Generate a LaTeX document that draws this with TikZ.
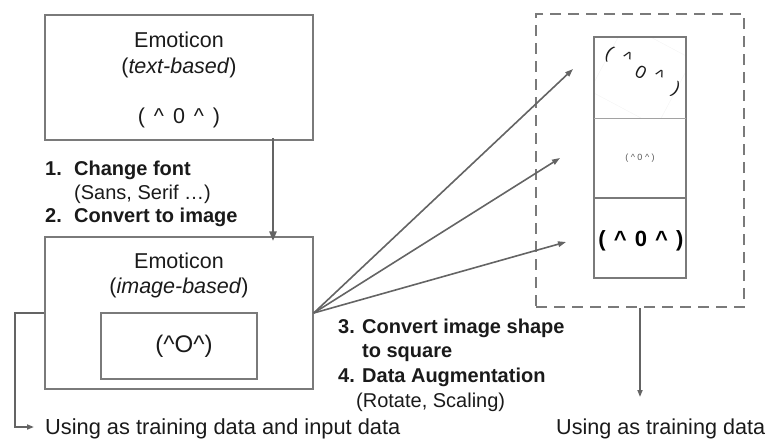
\documentclass[tikz,border=0pt]{standalone}
\usepackage{fontspec}
\setmainfont{Liberation Sans}
\usetikzlibrary{arrows.meta}
\newcommand\crt{\textasciicircum}
\definecolor{linegray}{HTML}{646464}
\definecolor{boxgray}{HTML}{7A7A7A}
\definecolor{ink}{HTML}{1A1A1A}
\begin{document}
\begin{tikzpicture}[x=1pt,y=-1pt,
  box/.style={draw=boxgray,line width=1.5pt,inner sep=0pt},
  txt/.style={text=ink,inner sep=0pt,anchor=base},
  lab/.style={text=ink,inner sep=0pt,anchor=base west,font=\fontsize{20}{24}\selectfont\bfseries},
  sub/.style={text=ink,inner sep=0pt,anchor=base west,font=\fontsize{20}{24}\selectfont},
  big/.style={font=\fontsize{21.5}{26}\selectfont},
  tilted/.style={text=ink,inner sep=0pt,rotate=-28,font=\fontsize{18}{22}\selectfont},
  arr/.style={draw=linegray,line width=1.6pt,-{Triangle[length=8pt,width=5.5pt]}},
  thick arr/.style={arr,line width=2.8pt,-{Triangle[length=10pt,width=7pt]}}]
\useasboundingbox (0,0) rectangle (769,440);

% text-based emoticon
\node[box,minimum width=268pt,minimum height=125pt] (top) at (179,77.5) {};
\node[txt,big] (t1) at (179,47) {Emoticon};
\node[txt,big] (t2) at (179,73) {(\textit{text-based})};
\node[txt,big] (t3) at (179,123) {(\hspace{3pt} \crt\hspace{3pt} 0\hspace{3pt} \crt\hspace{3pt} )};

% image-based emoticon
\node[box,minimum width=268pt,minimum height=152pt] (bottom) at (179,313) {};
\node[txt,big] (b1) at (179,268) {Emoticon};
\node[txt,big] (b2) at (179,293) {(\textit{image-based})};
\node[box,minimum width=156pt,minimum height=66pt] (inner) at (179,346) {};
\node[text=ink,inner sep=0pt,font=\fontsize{24}{28}\selectfont] (emo) at (184,346) {(\crt O\crt)};

% steps 1 and 2
\node[lab] (n1) at (45,175) {1.};
\node[lab] (s1t) at (74,175) {Change font};
\node[sub] (s1s) at (74,199) {(Sans, Serif …)};
\node[lab] (n2) at (45,222) {2.};
\node[lab] (s2t) at (74,222) {Convert to image};

% steps 3 and 4
\node[lab] (n3) at (338,333) {3.};
\node[lab] (s3t) at (362,333) {Convert image shape};
\node[lab] (s3b) at (362,357) {to square};
\node[lab] (n4) at (338,382) {4.};
\node[lab] (s4t) at (362,382) {Data Augmentation};
\node[sub] (s4s) at (356,407) {(Rotate, Scaling)};

% augmented square images
\node[draw=boxgray,dashed,line width=2.5pt,dash pattern=on 11pt off 7pt,
      minimum width=208pt,minimum height=293pt,inner sep=0pt] (aug) at (640,160.5) {};
\node[minimum width=92pt,minimum height=81pt,inner sep=0pt] (img1) at (640,77.5) {};
\node[minimum width=92pt,minimum height=80pt,inner sep=0pt] (img2) at (640,158) {};
\node[minimum width=92pt,minimum height=80pt,inner sep=0pt] (img3) at (640,238) {};
\begin{scope}
  \clip (img1.north west) rectangle (img1.south east);
  \draw[black!4,line width=0.5pt,rotate around={-28:(641,75)}] (603,37) rectangle (679,113);
\end{scope}
\draw[boxgray,line width=1.5pt] (img1.north west) rectangle (img3.south east);
\draw[boxgray!70,line width=0.8pt] (img1.south west) -- (img1.south east);
\draw[boxgray,line width=1.5pt] (img3.north west) -- (img3.north east);
% rotated sample: each glyph placed on its own
\node[tilted] (r1) at (609,54) {(};
\node[tilted] (r2) at (627,58) {\crt};
\node[tilted] (r3) at (641,72) {0};
\node[tilted] (r4) at (659,76) {\crt};
\node[tilted] (r5) at (676,90) {)};
\node[text=black!65,inner sep=0pt,font=\fontsize{9}{11}\selectfont] (e2) at (640,158)
  {( \crt\ 0 \crt\ )};
\node[text=black,inner sep=0pt,font=\fontsize{22}{26}\selectfont\bfseries] (e3) at (641,241)
  {(\hspace{2pt} \crt\hspace{2pt} 0\hspace{2pt} \crt\hspace{2pt} )};

% connectors
\draw[thick arr] ([xshift=94pt,yshift=3pt]top.south) -- ([xshift=94pt,yshift=-5pt]bottom.north);
\coordinate (a1) at (573,69);
\coordinate (a2) at (560,158);
\coordinate (a3) at (566,242);
\draw[arr] (bottom.east) -- (a1);
\draw[arr] (bottom.east) -- (a2);
\draw[arr] (bottom.east) -- (a3);

% outputs
\node[txt,anchor=base west,font=\fontsize{21.8}{26}\selectfont] (use1) at (45,434) {Using as training data and input data};
\node[txt,anchor=base west,font=\fontsize{21.6}{26}\selectfont] (use2) at (556,434) {Using as training data};
\coordinate (bend) at (15,427);
\draw[arr,-{Triangle[length=7pt,width=5pt]}] (bottom.west) -| (bend) -- ([xshift=-11pt]use1.west |- bend);
\coordinate (d2) at (640,397);
\draw[arr,-{Triangle[length=7pt,width=5pt]}] (aug.south) -- (d2);
\end{tikzpicture}
\end{document}
